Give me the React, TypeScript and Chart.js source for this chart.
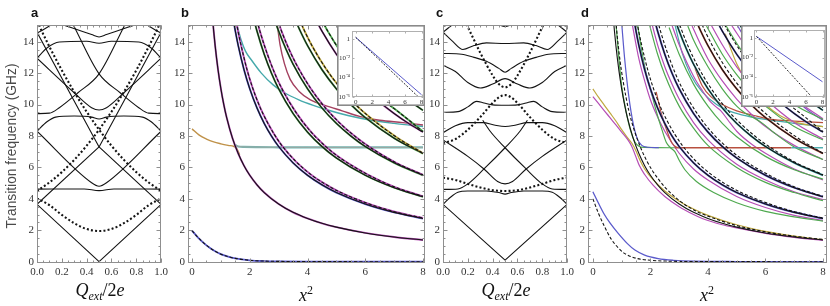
import React, { useEffect, useRef } from "react";
import { Chart, registerables } from "chart.js";

Chart.register(...registerables);

type P = [number, number];

// ---------------- ticks ----------------
const freqTicks = [0, 2, 4, 6, 8, 10, 12, 14];
const chargeTicks = [0, 0.2, 0.4, 0.6, 0.8, 1.0];
const x2Ticks = [0, 2, 4, 6, 8];
const insetYTicks = [1, 1e-2, 1e-4, 1e-6];
const insetYLabels = ["1", "10⁻²", "10⁻⁴", "10⁻⁶"];

// ---------------- panel a (Q_ext/2e) ----------------
const aV: P[] = [[0, 3.65], [0.5, 0], [1, 3.65]];
const aRes: P[] = [[0, 4.62], [0.38, 4.63], [0.5, 4.52], [0.62, 4.63], [1, 4.62]];
const aVres: P[] = [[0, 8.3], [0.44, 5.02], [0.5, 4.8], [0.56, 5.02], [1, 8.3]];
const aUp: P[] = [[0, 3.65], [0.5, 7.3], [1, 14.6]];
const aDown: P[] = [[0, 14.6], [0.5, 7.3], [1, 3.65]];
const aRes2: P[] = [[0, 8.3], [0.08, 8.9], [0.15, 9.2], [0.3, 9.27], [0.44, 9.2], [0.5, 9.08], [0.56, 9.2], [0.7, 9.27], [0.85, 9.2], [0.92, 8.9], [1, 8.3]];
const aBranchL: P[] = [[0, 9.42], [0.1, 9.45], [0.18, 9.8], [0.33, 10.75], [0.5, 11.95], [0.71, 15.1]];
const aBranchR: P[] = [[0.29, 15.1], [0.5, 11.95], [0.67, 10.75], [0.82, 9.8], [0.9, 9.45], [1, 9.42]];
const aV2: P[] = [[0, 12.95], [0.3, 10.75], [0.44, 9.8], [0.5, 9.65], [0.56, 9.8], [0.7, 10.75], [1, 12.95]];
const aRes3: P[] = [[0, 12.95], [0.08, 13.6], [0.18, 13.98], [0.4, 14.03], [0.5, 13.9], [0.6, 14.03], [0.82, 13.98], [0.92, 13.6], [1, 12.95]];
const aTopL: P[] = [[0, 14.55], [0.06, 14.8], [0.12, 15.1]];
const aTopR: P[] = [[0.88, 15.1], [0.94, 14.8], [1, 14.55]];
const aTopV: P[] = [[0.2, 15.1], [0.44, 14.45], [0.5, 14.3], [0.56, 14.45], [0.8, 15.1]];
const aDotLow: P[] = [[0, 4.03], [0.1, 3.6], [0.2, 2.98], [0.3, 2.45], [0.4, 2.08], [0.5, 1.95], [0.6, 2.08], [0.7, 2.45], [0.8, 2.98], [0.9, 3.6], [1, 4.03]];
const aDotUp: P[] = [[0, 4.5], [0.1, 5.04], [0.2, 5.7], [0.3, 6.48], [0.4, 7.38], [0.5, 8.4], [0.6, 9.54], [0.7, 10.8], [0.8, 12.18], [0.9, 13.68], [1, 15.3]];
const aDotDown: P[] = [[0, 15.3], [0.1, 13.68], [0.2, 12.18], [0.3, 10.8], [0.4, 9.54], [0.5, 8.4], [0.6, 7.38], [0.7, 6.48], [0.8, 5.7], [0.9, 5.04], [1, 4.5]];

// ---------------- panel c (Q_ext/2e) ----------------
const cV: P[] = [[0, 3.65], [0.5, 0.1], [1, 3.65]];
const cCap: P[] = [[0, 3.65], [0.06, 4.1], [0.12, 4.42], [0.2, 4.5], [0.35, 4.5], [0.45, 4.4], [0.5, 4.3], [0.55, 4.4], [0.65, 4.5], [0.8, 4.5], [0.88, 4.42], [0.94, 4.1], [1, 3.65]];
const cVres: P[] = [[0, 7.75], [0.2, 6.7], [0.33, 5.9], [0.44, 5.1], [0.5, 4.95], [0.56, 5.1], [0.67, 5.9], [0.8, 6.7], [1, 7.75]];
const cRiseL: P[] = [[0, 4.6], [0.12, 4.63], [0.2, 4.95], [0.33, 5.9], [0.5, 7.25], [0.62, 8.3], [0.68, 9.0]];
const cRiseR: P[] = [[0.32, 9.0], [0.38, 8.3], [0.5, 7.25], [0.67, 5.9], [0.8, 4.95], [0.88, 4.63], [1, 4.6]];
const cFlat8: P[] = [[0, 8.2], [0.1, 8.65], [0.2, 8.85], [0.32, 8.85], [0.42, 8.68], [0.5, 8.6], [0.58, 8.68], [0.68, 8.85], [0.8, 8.85], [0.9, 8.65], [1, 8.2]];
const cBump10: P[] = [[0, 9.5], [0.12, 9.55], [0.2, 9.85], [0.27, 10.2], [0.33, 10.1], [0.4, 9.98], [0.5, 9.95], [0.6, 9.98], [0.67, 10.1], [0.73, 10.2], [0.8, 9.85], [0.88, 9.55], [1, 9.5]];
const cW11: P[] = [[0, 12.5], [0.1, 12.1], [0.2, 11.4], [0.3, 11.05], [0.4, 11.3], [0.5, 11.65], [0.6, 11.3], [0.7, 11.05], [0.8, 11.4], [0.9, 12.1], [1, 12.5]];
const cV12: P[] = [[0, 13.25], [0.15, 13.2], [0.25, 13.0], [0.35, 12.75], [0.45, 12.3], [0.5, 12.05], [0.55, 12.3], [0.65, 12.75], [0.75, 13.0], [0.85, 13.2], [1, 13.25]];
const cTop14: P[] = [[0, 14.6], [0.08, 14.0], [0.16, 13.5], [0.25, 13.75], [0.35, 13.92], [0.5, 13.88], [0.65, 13.92], [0.75, 13.75], [0.84, 13.5], [0.92, 14.0], [1, 14.6]];
const cTopL: P[] = [[0, 14.6], [0.04, 14.85], [0.08, 15.1]];
const cTopR: P[] = [[0.92, 15.1], [0.96, 14.85], [1, 14.6]];
const cTopMid: P[] = [[0.44, 15.1], [0.5, 14.95], [0.56, 15.1]];
const cDotLow: P[] = [[0, 5.35], [0.1, 5.2], [0.2, 4.95], [0.3, 4.72], [0.4, 4.55], [0.5, 4.5], [0.6, 4.55], [0.7, 4.72], [0.8, 4.95], [0.9, 5.2], [1, 5.35]];
const cDotMid: P[] = [[0, 7.55], [0.1, 7.8], [0.2, 8.4], [0.3, 9.2], [0.4, 10.1], [0.45, 10.45], [0.5, 10.6], [0.55, 10.45], [0.6, 10.1], [0.7, 9.2], [0.8, 8.4], [0.9, 7.8], [1, 7.55]];
const cDotTop: P[] = [[0.19, 15.1], [0.3, 13.3], [0.4, 11.85], [0.45, 11.3], [0.5, 11.1], [0.55, 11.3], [0.6, 11.85], [0.7, 13.3], [0.81, 15.1]];

// ---------------- panel b / d (x^2) ----------------
const bBottom: P[] = [[0, 1.98], [0.2, 1.55], [0.4, 1.2], [0.6, 0.9], [0.8, 0.66], [1, 0.48], [1.25, 0.32], [1.5, 0.21], [2, 0.09], [2.5, 0.04], [3, 0.02], [4, 0.005], [8, 0]];
const bOrange: P[] = [[0, 8.45], [0.25, 8.05], [0.5, 7.8], [0.75, 7.62], [1, 7.5], [1.25, 7.4], [1.45, 7.33], [1.55, 7.2], [1.65, 6.8]];
const bFlat: P[] = [[1.5, 7.42], [1.6, 7.33], [1.8, 7.3], [3, 7.28], [8, 7.27]];
const bTeal: P[] = [[1.55, 15.1], [1.7, 14.1], [1.85, 13.4], [2.07, 12.8], [2.4, 12.0], [2.81, 11.25], [3.2, 10.75], [3.7, 10.3], [4.2, 9.95], [4.7, 9.65], [5.4, 9.3], [6.2, 9.0], [7, 8.8], [8, 8.6]];
const bMaroon: P[] = [[2.95, 15.1], [3.05, 13.8], [3.2, 12.6], [3.4, 11.6], [3.7, 10.85], [4.1, 10.3], [4.6, 9.95], [5.2, 9.6], [5.8, 9.25], [6.5, 9.0], [7.3, 8.85], [8, 8.7]];

const bN1: P[] = [[0.7, 15.7], [0.75, 14.67], [0.8, 13.75], [0.9, 12.22], [1, 11], [1.1, 10], [1.2, 9.17], [1.4, 7.86], [1.6, 6.88], [1.8, 6.11], [2, 5.5], [2.25, 4.89], [2.5, 4.4], [3, 3.67], [3.5, 3.14], [4, 2.75], [4.5, 2.44], [5, 2.2], [6, 1.83], [7, 1.57], [8, 1.38]];
const bN2: P[] = [[1.4, 15.7], [1.5, 14.67], [1.6, 13.75], [1.8, 12.22], [2, 11], [2.25, 9.78], [2.5, 8.8], [2.75, 8], [3, 7.33], [3.5, 6.29], [4, 5.5], [4.5, 4.89], [5, 4.4], [6, 3.67], [7, 3.14], [8, 2.75]];
const bN3: P[] = [[2.1, 15.7], [2.25, 14.67], [2.5, 13.2], [2.75, 12], [3, 11], [3.5, 9.43], [4, 8.25], [4.5, 7.33], [5, 6.6], [6, 5.5], [7, 4.71], [8, 4.13]];
const bN4: P[] = [[2.8, 15.7], [3, 14.67], [3.25, 13.54], [3.5, 12.57], [4, 11], [4.5, 9.78], [5, 8.8], [5.5, 8], [6, 7.33], [7, 6.29], [8, 5.5]];
const bN5: P[] = [[3.5, 15.7], [3.75, 14.67], [4, 13.75], [4.5, 12.22], [5, 11], [5.5, 10], [6, 9.17], [7, 7.86], [8, 6.88]];
const bN6: P[] = [[4.2, 15.7], [4.5, 14.67], [5, 13.2], [5.5, 12], [6, 11], [6.5, 10.15], [7, 9.43], [7.5, 8.8], [8, 8.25]];
const bN7: P[] = [[4.9, 15.7], [5.25, 14.67], [5.5, 14], [6, 12.83], [6.5, 11.85], [7, 11], [7.5, 10.27], [8, 9.63]];
const bN8: P[] = [[5.6, 15.7], [6, 14.67], [6.5, 13.54], [7, 12.57], [7.5, 11.73], [8, 11]];
const bN9: P[] = [[6.3, 15.7], [6.6, 15], [7, 14.14], [7.5, 13.2], [8, 12.38]];
const bN10: P[] = [[7, 15.7], [7.5, 14.67], [8, 13.75]];
const bN11: P[] = [[7.7, 15.7], [8, 15.13]];
const bP2: P[] = [[1.5, 15.6], [1.6, 14.6], [1.7, 13.75], [1.9, 12.25], [2.1, 11.05], [2.35, 9.85], [2.6, 8.9], [2.85, 8.1], [3.1, 7.42], [3.6, 6.37], [4.1, 5.57], [4.6, 4.95], [5.1, 4.45], [6.1, 3.7], [7.05, 3.16], [8, 2.78]];
const bP3: P[] = [[2.2, 15.7], [2.35, 14.67], [2.6, 13.25], [2.85, 12.05], [3.1, 11.05], [3.6, 9.5], [4.1, 8.3], [4.6, 7.38], [5.1, 6.64], [6.1, 5.53], [7.05, 4.73], [8, 4.16]];
const bP4: P[] = [[2.9, 15.7], [3.1, 14.67], [3.35, 13.55], [3.6, 12.6], [4.1, 11.05], [4.6, 9.83], [5.1, 8.85], [5.6, 8.04], [6.1, 7.36], [7.05, 6.31], [8, 5.53]];
const bP5: P[] = [[3.65, 15.7], [3.9, 14.67], [4.15, 13.76], [4.65, 12.25], [5.15, 11.03], [5.65, 10.03], [6.15, 9.2], [7.1, 7.9], [8, 6.9]];
const bP6: P[] = [[4.4, 15.7], [4.7, 14.67], [5.2, 13.22], [5.7, 12.02], [6.2, 11.02], [6.7, 10.18], [7.2, 9.46], [8, 8.28]];

const dBotBlue: P[] = [[0, 4.45], [0.2, 3.7], [0.4, 3.0], [0.6, 2.45], [0.88, 1.8], [1.2, 1.15], [1.46, 0.74], [1.8, 0.42], [2.27, 0.2], [2.8, 0.09], [3.5, 0.03], [5, 0.01], [8, 0]];
const dBotDash: P[] = [[0, 4.0], [0.2, 3.05], [0.4, 2.25], [0.65, 1.4], [0.9, 0.85], [1.1, 0.53], [1.5, 0.22], [2.0, 0.09], [2.5, 0.04], [3.5, 0.01], [8, 0]];
const dYel: P[] = [[0, 11.0], [0.2, 10.45], [0.4, 9.95], [0.6, 9.45], [0.8, 8.95], [1.0, 8.4], [1.2, 7.9], [1.35, 7.55], [1.5, 7.05], [1.65, 6.4], [1.8, 5.9], [2.1, 5.2], [2.5, 4.5], [3, 3.85], [3.5, 3.35], [4, 2.95], [5, 2.35], [6, 1.93], [7, 1.63], [8, 1.4]];
const dMag1: P[] = [[0, 10.5], [0.2, 10.05], [0.4, 9.6], [0.6, 9.15], [0.8, 8.7], [1.0, 8.25], [1.2, 7.8], [1.35, 7.35], [1.48, 6.75], [1.62, 6.1], [1.8, 5.55], [2.1, 4.85], [2.5, 4.15], [3, 3.5], [3.5, 3.0], [3.8, 2.75], [4.5, 2.35], [5, 2.15], [6, 1.8], [7, 1.55], [8, 1.36]];
const dBlue1: P[] = [[1.0, 15.2], [1.1, 13.0], [1.25, 10.5], [1.4, 8.8], [1.55, 7.8], [1.7, 7.4], [1.9, 7.28], [2.3, 7.25]];
const dGreen1: P[] = [[0.8, 15.2], [0.9, 13.0], [1.0, 11.2], [1.15, 9.6], [1.3, 8.4], [1.45, 7.65], [1.6, 7.35], [1.8, 7.27], [2.85, 7.25]];
const dFlatRed: P[] = [[2.85, 7.25], [6.9, 7.25]];
const dFlatTeal: P[] = [[6.9, 7.25], [8, 7.25]];
const dRedIn: P[] = [[2.2, 10.8], [2.4, 9.3], [2.6, 8.2], [2.75, 7.55], [2.9, 7.3], [3.1, 7.25]];
const dTealH: P[] = [[2.85, 15.1], [3.1, 13.3], [3.4, 11.9], [3.8, 10.8], [4.3, 10.0], [4.8, 9.55], [5.4, 9.25], [6, 9.05], [7, 8.8], [8, 8.6]];
const dRedH: P[] = [[3.55, 12.3], [3.8, 11.2], [4.1, 10.5], [4.5, 10.0], [5, 9.6], [5.6, 9.3], [6.2, 9.05], [7, 8.95], [8, 8.85]];
const dOliveH: P[] = [[4.6, 14.5], [5, 12.6], [5.5, 11], [6, 10.0], [6.5, 9.3], [7, 8.9], [7.5, 8.7], [8, 8.6]];
const dPur1: P[] = [[5.0, 15.1], [5.5, 13.6], [6, 12.4], [6.5, 11.3], [7, 10.4], [7.5, 9.6], [8, 9.0]];
const dPur2: P[] = [[6.2, 15.1], [6.6, 14.1], [7, 13.2], [7.5, 12.2], [8, 11.3]];
const dP1: P[] = [[0.78, 15.7], [0.85, 14.3], [0.95, 12.7], [1.05, 11.5], [1.25, 9.6], [1.45, 8.3], [1.65, 7.3], [1.85, 6.5], [2.05, 5.85], [2.5, 4.75], [3, 3.9], [3.5, 3.3], [4, 2.9], [5, 2.3], [6, 1.9], [7, 1.62], [8, 1.42]];
const dP7: P[] = [[5.05, 15.6], [5.4, 14.6], [6, 13.1], [6.5, 12.1], [7, 11.2], [7.5, 10.45], [8, 9.8]];
const dP8: P[] = [[5.75, 15.5], [6.2, 14.4], [6.7, 13.3], [7.2, 12.4], [7.6, 11.75], [8, 11.15]];
const dM2: P[] = [[1.35, 15.3], [1.4, 14.8], [1.6, 12.9], [1.8, 11.5], [2, 10.3], [2.25, 9.2], [2.5, 8.3], [3, 6.9], [3.5, 5.9], [4, 5.2], [5, 4.15], [6, 3.45], [7, 2.95], [8, 2.62]];
const dM3: P[] = [[2.0, 15.5], [2.25, 13.8], [2.5, 12.4], [2.75, 11.3], [3, 10.35], [3.5, 8.85], [4, 7.75], [5, 6.2], [6, 5.2], [7, 4.45], [8, 3.95]];
const dM4: P[] = [[2.7, 15.3], [3, 13.8], [3.5, 11.8], [3.8, 10.9], [4.05, 10.25], [4.25, 9.9], [4.45, 9.6], [4.7, 9.0], [5, 8.3], [5.5, 7.5], [6, 6.9], [7, 5.9], [8, 5.2]];
const dM5: P[] = [[3.45, 15.0], [3.75, 13.8], [4, 12.9], [4.5, 11.5], [5, 10.35], [5.5, 9.4], [6, 8.6], [7, 7.4], [8, 6.5]];
const dM6: P[] = [[4.1, 15.1], [4.5, 13.8], [5, 12.4], [5.5, 11.3], [6, 10.35], [7, 8.85], [8, 7.8]];
const dM7: P[] = [[4.8, 15.1], [5.5, 13.2], [6, 12.1], [6.5, 11.1], [7, 10.35], [8, 9.1]];
const dM8: P[] = [[5.5, 15.0], [6, 13.8], [6.5, 12.7], [7, 11.8], [8, 10.4]];
const dG2: P[] = [[1.55, 15.1], [1.7, 13.4], [1.85, 12.0], [2.0, 11.0], [2.2, 9.6], [2.4, 8.4], [2.55, 7.6], [2.7, 7.25], [2.85, 7.0], [3.0, 6.45], [3.2, 5.85], [3.6, 5.1], [4.2, 4.4], [5, 3.75], [6, 3.2], [7, 2.85], [8, 2.58]];
const dG3: P[] = [[1.95, 15.2], [2.25, 13.2], [2.5, 11.9], [3, 9.9], [3.5, 8.5], [4, 7.4], [5, 6.0], [6, 5.05], [7, 4.4], [8, 3.88]];
const dG4: P[] = [[2.65, 14.9], [3, 13.2], [3.5, 11.3], [4, 9.9], [4.5, 8.8], [5, 7.95], [6, 6.7], [7, 5.85], [8, 5.25]];
const dG5: P[] = [[3.3, 15.0], [3.5, 14.1], [4, 12.4], [4.5, 11.0], [5, 9.9], [5.3, 9.45], [5.6, 9.15], [5.9, 8.8], [6.3, 8.2], [7, 7.3], [8, 6.5]];
const dG6: P[] = [[3.95, 15.0], [4.5, 13.2], [5, 11.9], [5.5, 10.8], [6, 9.9], [7, 8.6], [8, 7.75]];
const dG7: P[] = [[4.6, 15.1], [5, 13.9], [5.5, 12.6], [6, 11.55], [7, 10.0], [8, 9.05]];
const dG8: P[] = [[5.3, 14.9], [5.6, 14.1], [6, 13.2], [7, 11.4], [8, 10.35]];

// ---------------- insets (log) ----------------
const bInBlue: P[] = [[0, 1.4], [8, 1.7e-6]];
const bInDash: P[] = [[0, 1.4], [8, 5e-7]];
const dInBlue: P[] = [[0, 1.4], [8, 3.5e-5]];
const dInDash: P[] = [[0, 1.4], [8, 6.4e-8]];

// ---------------- styles ----------------
const K = "#141414";
const MAG = "#b54db5";
const GRN = "#4fa94f";
const YEL = "#bfa83e";
const BLU = "#5a5acb";
const TEA = "#45a9ab";
const RED = "#b8503f";
const MAR = "#a3405f";
const PUR = "#7a55c8";
const ORA = "#bf9148";
const DOT = [2, 2.2];
const DASH = [3.2, 2];

type S = { d: P[]; c: string; w: number; dash?: number[]; m?: boolean };
const sol = (d: P[], m = false): S => ({ d, c: K, w: 1.1, m });
const dot = (d: P[]): S => ({ d, c: K, w: 2.1, dash: DOT, m: true });
const col = (d: P[], c: string, w = 1.9): S => ({ d, c, w, m: true });
const dsh = (d: P[]): S => ({ d, c: K, w: 1.1, dash: DASH, m: true });

// listed bottom layer first
const aSeries: S[] = [
  sol(aV), sol(aRes, true), sol(aVres, true), sol(aUp), sol(aDown), sol(aRes2, true),
  sol(aBranchL, true), sol(aBranchR, true), sol(aV2, true), sol(aRes3, true),
  sol(aTopL, true), sol(aTopR, true), sol(aTopV, true),
  dot(aDotLow), dot(aDotUp), dot(aDotDown),
];

const cSeries: S[] = [
  sol(cV), sol(cCap, true), sol(cVres, true), sol(cRiseL, true), sol(cRiseR, true),
  sol(cFlat8, true), sol(cBump10, true), sol(cW11, true), sol(cV12, true), sol(cTop14, true),
  sol(cTopL, true), sol(cTopR, true), sol(cTopMid, true),
  dot(cDotLow), dot(cDotMid), dot(cDotTop),
];

const bSeries: S[] = [
  col(bTeal, TEA, 1.4), col(bMaroon, MAR, 1.4),
  col(bFlat, "#6fb7b4", 2.2), { d: bFlat, c: "rgba(205,150,140,0.5)", w: 1.0 },
  col(bOrange, ORA, 1.4),
  col(bN1, MAG), col(bN2, BLU), col(bP2, MAG), col(bN3, GRN), col(bP3, MAG),
  col(bN4, GRN), col(bP4, MAG), col(bN5, GRN), col(bP5, YEL), col(bN6, MAG), col(bP6, GRN),
  col(bN7, GRN), col(bN8, MAG), col(bN9, GRN), col(bN10, YEL), col(bN11, GRN),
  col(bBottom, BLU, 1.8),
  sol(bN1, true), sol(bN2, true), sol(bN3, true), sol(bN4, true), sol(bN5, true), sol(bN6, true),
  sol(bN7, true), sol(bN8, true), sol(bN9, true), sol(bN10, true), sol(bN11, true),
  dsh(bP2), dsh(bP3), dsh(bP4), dsh(bP5), dsh(bP6), dsh(bBottom),
];

const dSeries: S[] = [
  col(dTealH, TEA, 1.2), col(dRedH, RED, 1.2), col(dOliveH, YEL, 1.2), col(dPur1, PUR, 1.2), col(dPur2, PUR, 1.2),
  col(dM2, MAG, 1.2), col(dM3, MAG, 1.2), col(dM4, MAG, 1.2), col(dM5, MAG, 1.2), col(dM6, MAG, 1.2), col(dM7, MAG, 1.2), col(dM8, MAG, 1.2),
  col(dG2, GRN, 1.2), col(dG3, GRN, 1.2), col(dG4, GRN, 1.2), col(dG5, GRN, 1.2), col(dG6, GRN, 1.2), col(dG7, GRN, 1.2), col(dG8, GRN, 1.2),
  col(dGreen1, GRN, 1.2), col(dBlue1, BLU, 1.2), col(dRedIn, RED, 1.2),
  col(dFlatRed, RED, 1.4), col(dFlatTeal, TEA, 1.4),
  col(dYel, YEL, 1.2), col(dMag1, MAG, 1.2),
  col(bN2, BLU, 2.0), col(bN3, BLU, 2.0), col(bN4, TEA, 2.0), col(bN5, RED, 1.8), col(bN6, BLU, 1.8), col(bN7, TEA, 1.8), col(bN8, RED, 1.8),
  col(dBotBlue, BLU, 1.3),
  sol(bN1, true), sol(bN2, true), sol(bN3, true), sol(bN4, true), sol(bN5, true), sol(bN6, true),
  sol(bN7, true), sol(bN8, true), sol(bN9, true), sol(bN10, true), sol(bN11, true),
  dsh(dP1), dsh(bP2), dsh(bP3), dsh(bP4), dsh(bP5), dsh(bP6), dsh(dP7), dsh(dP8), dsh(dBotDash),
];

const bInSeries: S[] = [{ d: bInBlue, c: BLU, w: 1 }, { d: bInDash, c: K, w: 0.9, dash: [2, 1.5] }];
const dInSeries: S[] = [{ d: dInBlue, c: BLU, w: 1 }, { d: dInDash, c: K, w: 0.9, dash: [2, 1.5] }];

// ---------------- chart plumbing ----------------
// Chart.js paints dataset 0 last (on top), so the list is reversed.
const toDatasets = (list: S[]) =>
  list
    .slice()
    .reverse()
    .map((s) => ({
      data: s.d.map(([x, y]) => ({ x, y })),
      showLine: true,
      borderColor: s.c,
      backgroundColor: s.c,
      borderWidth: s.w,
      borderDash: s.dash || [],
      borderCapStyle: "butt",
      borderJoinStyle: "round",
      pointRadius: 0,
      pointHoverRadius: 0,
      fill: false,
      tension: 0,
      cubicInterpolationMode: s.m ? "monotone" : "default",
      capBezierPoints: false,
    }));

const framePlugin = {
  id: "frame",
  beforeDraw(chart: any, _a: any, o: any) {
    if (!o || !o.bg) return;
    const ctx = chart.ctx;
    ctx.save();
    ctx.fillStyle = "#fff";
    ctx.fillRect(0, 0, chart.width, chart.height);
    ctx.strokeStyle = o.outer;
    ctx.lineWidth = 1.6;
    ctx.strokeRect(0.8, 0.8, chart.width - 1.6, chart.height - 1.6);
    ctx.restore();
  },
  afterDatasetsDraw(chart: any, _a: any, o: any) {
    const { ctx, chartArea: a } = chart;
    const xs = chart.scales.x;
    const ys = chart.scales.y;
    const L = Math.round(a.left) + 0.5;
    const R = Math.round(a.right) - 0.5;
    const T = Math.round(a.top) + 0.5;
    const B = Math.round(a.bottom) - 0.5;
    ctx.save();
    ctx.strokeStyle = o.color;
    ctx.lineWidth = 1;
    ctx.beginPath();
    const vt = (v: number, len: number) => {
      const p = Math.round(xs.getPixelForValue(v)) + 0.5;
      ctx.moveTo(p, B); ctx.lineTo(p, B - len);
      ctx.moveTo(p, T); ctx.lineTo(p, T + len);
    };
    const ht = (v: number, len: number) => {
      const p = Math.round(ys.getPixelForValue(v)) + 0.5;
      ctx.moveTo(L, p); ctx.lineTo(L + len, p);
      ctx.moveTo(R, p); ctx.lineTo(R - len, p);
    };
    o.xMaj.forEach((v: number) => vt(v, o.maj));
    o.yMaj.forEach((v: number) => ht(v, o.maj));
    if (o.xMinor) {
      for (let i = Math.ceil(xs.min / o.xMinor); i * o.xMinor <= xs.max + 1e-9; i++) vt(i * o.xMinor, o.mnr);
    }
    if (o.yMinor) {
      for (let i = Math.ceil(ys.min / o.yMinor); i * o.yMinor <= ys.max + 1e-9; i++) ht(i * o.yMinor, o.mnr);
    }
    ctx.stroke();
    ctx.strokeRect(L, T, R - L, B - T);
    ctx.restore();
  },
};

type Cfg = {
  left: number; top: number; width: number; height: number;
  yW: number; xH: number; pr: number; pt: number;
  xMin: number; xMax: number; yMin: number; yMax: number;
  xTicks: number[]; yTicks: number[]; xMinor: number; yMinor: number;
  xFmt: (v: number) => string; yFmt: (v: number, i: number) => string;
  log?: boolean; inset?: boolean; fs: number; xPad: number; yPad: number;
  series: S[];
};

function Plot({ cfg }: { cfg: Cfg }) {
  const ref = useRef<HTMLCanvasElement | null>(null);
  useEffect(() => {
    const canvas = ref.current;
    if (!canvas) return;
    const font = { family: "'Liberation Serif','Times New Roman',serif", size: cfg.fs };
    const chart = new Chart(canvas, {
      type: "scatter",
      data: { datasets: toDatasets(cfg.series) as any },
      options: {
        responsive: false,
        animation: false,
        devicePixelRatio: 1,
        events: [],
        layout: { padding: { left: 0, right: cfg.pr, top: cfg.pt, bottom: 0 } },
        plugins: {
          legend: { display: false },
          tooltip: { enabled: false },
          frame: {
            color: cfg.inset ? "#b0b0b0" : "#8f8f8f",
            bg: !!cfg.inset,
            outer: "#8a8a8a",
            xMaj: cfg.xTicks,
            yMaj: cfg.yTicks,
            xMinor: cfg.xMinor,
            yMinor: cfg.yMinor,
            maj: cfg.inset ? 2 : 4,
            mnr: cfg.inset ? 1 : 2,
          },
        } as any,
        scales: {
          x: {
            type: "linear",
            position: "bottom",
            min: cfg.xMin,
            max: cfg.xMax,
            afterBuildTicks: (s: any) => { s.ticks = cfg.xTicks.map((v) => ({ value: v })); },
            afterFit: (s: any) => { s.height = cfg.xH; },
            grid: { display: false, drawTicks: false, tickLength: 0 },
            border: { display: false },
            ticks: { font, color: "#333", padding: cfg.xPad, maxRotation: 0, autoSkip: false, callback: (v: any) => cfg.xFmt(Number(v)) },
          },
          y: {
            type: cfg.log ? "logarithmic" : "linear",
            position: "left",
            min: cfg.yMin,
            max: cfg.yMax,
            afterBuildTicks: (s: any) => { s.ticks = cfg.yTicks.map((v) => ({ value: v })); },
            afterFit: (s: any) => { s.width = cfg.yW; },
            grid: { display: false, drawTicks: false, tickLength: 0 },
            border: { display: false },
            ticks: { font, color: "#333", padding: cfg.yPad, autoSkip: false, callback: (v: any, i: number) => cfg.yFmt(Number(v), i) },
          },
        } as any,
      },
      plugins: [framePlugin as any],
    });
    return () => chart.destroy();
  }, []);
  return (
    <canvas
      ref={ref}
      width={cfg.width}
      height={cfg.height}
      style={{ position: "absolute", left: cfg.left, top: cfg.top, width: cfg.width, height: cfg.height }}
    />
  );
}

const fmt1 = (v: number) => v.toFixed(1);
const fmt0 = (v: number) => String(v);
const fmtIn = (_v: number, i: number) => insetYLabels[i];

const main = { yMin: -0.083, yMax: 15.06, yTicks: freqTicks, yMinor: 0.5, fs: 11, xPad: 3, yPad: 3, top: 15, height: 268, pt: 10, xH: 20 };

const panels: Cfg[] = [
  { ...main, left: 0, width: 171, yW: 37, pr: 8, xMin: 0, xMax: 1, xTicks: chargeTicks, xMinor: 0.05, xFmt: fmt1, yFmt: fmt0, series: aSeries },
  { ...main, left: 168, width: 263, yW: 20, pr: 6, xMin: -0.14, xMax: 8.07, xTicks: x2Ticks, xMinor: 0.5, xFmt: fmt0, yFmt: fmt0, series: bSeries },
  { ...main, left: 428, width: 149, yW: 15, pr: 8, xMin: 0, xMax: 1, xTicks: chargeTicks, xMinor: 0.05, xFmt: fmt1, yFmt: fmt0, series: cSeries },
  { ...main, left: 572, width: 258, yW: 16, pr: 3, xMin: -0.17, xMax: 8.14, xTicks: x2Ticks, xMinor: 0.5, xFmt: fmt0, yFmt: fmt0, series: dSeries },
  {
    left: 337, top: 25, width: 88, height: 81, yW: 15, xH: 9, pr: 1, pt: 3,
    xMin: -0.45, xMax: 8.3, yMin: 1e-6, yMax: 6, xTicks: x2Ticks, yTicks: insetYTicks, xMinor: 0, yMinor: 0,
    xFmt: fmt0, yFmt: fmtIn, log: true, inset: true, fs: 7, xPad: 1, yPad: 2, series: bInSeries,
  },
  {
    left: 741, top: 25, width: 86, height: 82, yW: 13, xH: 10, pr: 2, pt: 3,
    xMin: -0.3, xMax: 8.3, yMin: 1e-6, yMax: 6, xTicks: x2Ticks, yTicks: insetYTicks, xMinor: 0, yMinor: 0,
    xFmt: fmt0, yFmt: fmtIn, log: true, inset: true, fs: 7, xPad: 1, yPad: 1, series: dInSeries,
  },
];

const letter: React.CSSProperties = {
  position: "absolute", top: 6, font: "bold 13px 'Liberation Sans', Arial, sans-serif", color: "#111", lineHeight: "13px",
};
const xTitle: React.CSSProperties = {
  position: "absolute", top: 280, transform: "translateX(-50%)", whiteSpace: "nowrap",
  font: "italic 18px 'Liberation Serif', 'Times New Roman', serif", color: "#111", lineHeight: "20px",
};

function QTitle({ cx }: { cx: number }) {
  return (
    <div style={{ ...xTitle, left: cx }}>
      Q<sub style={{ fontSize: "12px", verticalAlign: "-4px" }}>ext</sub>
      <span style={{ fontStyle: "normal" }}>/2</span>e
    </div>
  );
}

function XTitle({ cx }: { cx: number }) {
  return (
    <div style={{ ...xTitle, left: cx }}>
      x<sup style={{ fontSize: "12px", fontStyle: "normal", verticalAlign: "7px" }}>2</sup>
    </div>
  );
}

export default function App() {
  return (
    <div style={{ position: "fixed", left: 0, top: 0, width: 830, height: 306, overflow: "hidden", background: "#fff" }}>
      {panels.map((p, i) => (
        <Plot key={i} cfg={p} />
      ))}
      <div
        style={{
          position: "absolute", left: 11, top: 146, transform: "translate(-50%, -50%) rotate(-90deg)",
          whiteSpace: "nowrap", font: "13.8px 'Liberation Sans', Arial, sans-serif", color: "#4a4a4a",
        }}
      >
        Transition frequency (GHz)
      </div>
      <div style={{ ...letter, left: 31 }}>a</div>
      <div style={{ ...letter, left: 181 }}>b</div>
      <div style={{ ...letter, left: 436 }}>c</div>
      <div style={{ ...letter, left: 581 }}>d</div>
      <QTitle cx={100} />
      <XTitle cx={306} />
      <QTitle cx={506} />
      <XTitle cx={707} />
    </div>
  );
}
